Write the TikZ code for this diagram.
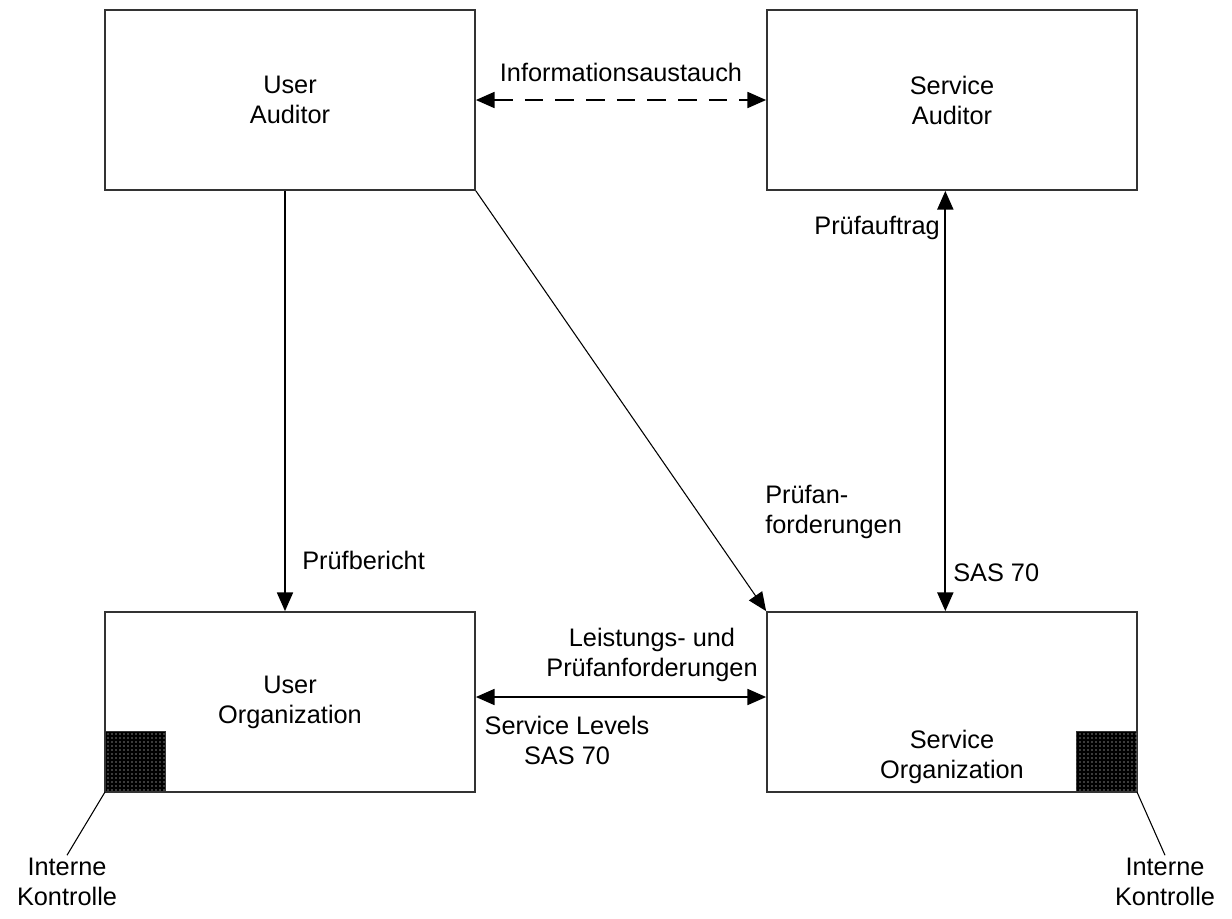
\documentclass[tikz,border=0pt]{standalone}
\usepackage{fontspec}
\setmainfont{Liberation Sans}
\usetikzlibrary{arrows.meta,patterns}

\tikzset{
  box/.style={draw=black!80, line width=1.3pt, minimum width=277.5pt, minimum height=135pt, inner sep=0pt},
  ctrl/.style={draw=black!80, line width=0.8pt, fill=black, minimum size=45pt, inner sep=0pt,
    postaction={pattern=dots, pattern color=white}},
  tip/.style={Triangle[length=14pt,width=12pt]},
  flow/.style={line width=1.3pt, -{Triangle[length=14pt,width=12pt]}},
  both/.style={line width=1.3pt, {Triangle[length=14pt,width=12pt]}-{Triangle[length=14pt,width=12pt]}},
  txt/.style={align=center, inner sep=2pt}
}

\begin{document}
\begin{tikzpicture}[x=0.75pt, y=-0.75pt, font=\fontsize{19}{22.5}\selectfont]
  \useasboundingbox (0,0) rectangle (1232,918);
  % boxes
  \node[box, txt] (ua) at (290,100) {User\\Auditor};
  \node[box, txt] (sa) at (952,100) {Service\\Auditor};
  \node[box, txt] (uo) at (290,702) {User\\Organization};
  \node[box] (so) at (952,702) {};
  \node[txt] (solbl) at (952,757) {Service\\Organization};
  % internal controls
  \node[ctrl, anchor=south west] (uic) at (105,792) {};
  \node[ctrl, anchor=south east] (sic) at (1137,792) {};
  \node[txt] (uil) at (67,882) {Interne\\Kontrolle};
  \node[txt] (sil) at (1165,882) {Interne\\Kontrolle};
  \draw[line width=0.8pt] (uic.south west) -- (uil.north);
  \draw[line width=0.8pt] (sic.south east) -- (sil.north);
  % connectors
  \draw[both, dashed, dash pattern=on 14pt off 9pt] (ua.east) -- (sa.west)
    node[midway, above=10pt] {Informationsaustauch};
  \draw[flow] ([xshift=-3.75pt]ua.south) -- ([xshift=-3.75pt]uo.north)
    node[pos=0.88, right=9pt] {Prüfbericht};
  \draw[line width=0.8pt, -{Triangle[length=14pt,width=12pt]}] (ua.south east) -- (so.north west);
  \draw[both] ([xshift=-5pt]sa.south) -- ([xshift=-5pt]so.north);
  \draw[both] ([yshift=3.75pt]uo.east) -- ([yshift=3.75pt]so.west);
  % labels
  \node[anchor=west, align=left, inner sep=0pt] (pf) at (765,512) {Prüfan-\\forderungen};
  \node[anchor=east, inner sep=0pt] (pa) at (940,228) {Prüfauftrag};
  \node[anchor=west, inner sep=0pt] (sas) at (953,573) {SAS 70};
  \node[txt] (lp) at (652,655) {Leistungs- und\\Prüfanforderungen};
  \node[txt] (sl) at (567,740) {Service Levels\\SAS 70};
\end{tikzpicture}
\end{document}
